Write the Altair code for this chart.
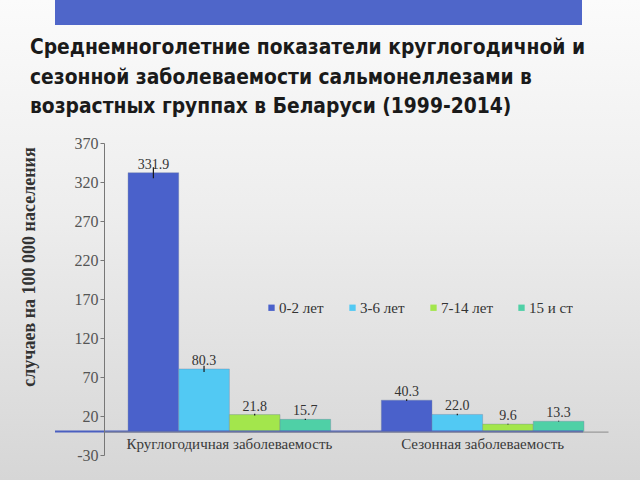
import altair as alt
import pandas as pd

categories = ["Круглогодичная заболеваемость", "Сезонная заболеваемость"]
age_groups = ["0-2 лет", "3-6 лет", "7-14 лет", "15 и ст"]
year_round = [331.9, 80.3, 21.8, 15.7]
seasonal = [40.3, 22.0, 9.6, 13.3]
err_year_round = [7.0, 4.0, 1.0, 0.8]
err_seasonal = [1.2, 1.0, 0.6, 0.5]
colors = ["#4A61CB", "#52C9F3", "#A3E64C", "#4FD0A6"]
y_ticks = [-30, 20, 70, 120, 170, 220, 270, 320, 370]

title_lines = [
    "Среднемноголетние показатели  круглогодичной и",
    "сезонной  заболеваемости сальмонеллезами  в",
    "возрастных группах в Беларуси (1999-2014)",
]
y_title = "случаев на 100 000 населения"

rows = []
for cat, vals, errs in [(categories[0], year_round, err_year_round),
                        (categories[1], seasonal, err_seasonal)]:
    for g, v, e in zip(age_groups, vals, errs):
        rows.append({"cat": cat, "grp": g, "val": v, "lo": v - e, "hi": v + e})
df = pd.DataFrame(rows)

W, H = 504, 312
PL, PT = 104, 143

one = pd.DataFrame({"a": [0]})

bg = alt.Chart(one).mark_rect(
    color=alt.Gradient(
        gradient="linear",
        stops=[alt.GradientStop(color="#FBFBFB", offset=0),
               alt.GradientStop(color="#EDEDED", offset=0.45),
               alt.GradientStop(color="#D6D6D6", offset=1)],
        x1=0, x2=0, y1=0, y2=1),
).encode(x=alt.value(-PL), x2=alt.value(640 - PL), y=alt.value(-PT), y2=alt.value(480 - PT))

banner = alt.Chart(one).mark_rect(color="#4F66C9").encode(
    x=alt.value(55 - PL), x2=alt.value(582 - PL), y=alt.value(-PT), y2=alt.value(25 - PT))

title = alt.Chart(one).mark_text(
    text=title_lines, align="left", baseline="alphabetic",
    font="DejaVu Sans Condensed", fontWeight="bold", fontSize=20.8,
    lineHeight=29.5, color="#1A1A1A",
).encode(x=alt.value(30 - PL), y=alt.value(54 - PT))

ytitle = alt.Chart(one).mark_text(
    text=y_title, angle=270, align="center", baseline="middle",
    font="Liberation Serif", fontWeight="bold", fontSize=18, color="#333333",
).encode(x=alt.value(30 - PL), y=alt.value(267 - PT))

yscale = alt.Scale(domain=[-30, 370], nice=False, zero=False)
xscale = alt.Scale(paddingInner=0.2, paddingOuter=0.095)

x_axis = alt.Axis(title=None, offset=-23.4, ticks=False, labelFont="Liberation Serif",
                  labelFontSize=15, labelColor="#3A3A3A", labelPadding=5,
                  labelLimit=400, labelOverlap=False,
                  domainColor="#8A8A8A", labelAngle=0, zindex=1)
y_axis = alt.Axis(title=None, values=y_ticks, labelFont="Liberation Serif",
                  labelFontSize=16, labelColor="#555555", tickColor="#777777",
                  domainColor="#777777", tickSize=4, labelPadding=2, grid=False,
                  labelOverlap=False, labelFlush=False, zindex=1,
                  labelExpr="datum.value < 0 ? '-' + abs(datum.value) : '' + datum.value")

xo = alt.XOffset("grp:N", sort=age_groups, scale=alt.Scale(paddingInner=0, paddingOuter=0))

bars = alt.Chart(df).mark_bar(stroke="#6E7FA0", strokeWidth=0.6, strokeOpacity=0.6).encode(
    x=alt.X("cat:N", sort=categories, scale=xscale, axis=x_axis), xOffset=xo,
    y=alt.Y("val:Q", scale=yscale, axis=y_axis), y2=alt.datum(0),
    color=alt.Color("grp:N", sort=age_groups,
                    scale=alt.Scale(domain=age_groups, range=colors),
                    legend=alt.Legend(title=None, orient="none", direction="horizontal",
                                      legendX=160, legendY=157, symbolType="square",
                                      symbolSize=40, symbolStrokeWidth=0,
                                      labelFont="Liberation Serif", labelFontSize=15,
                                      labelColor="#333333", columnPadding=21,
                                      symbolOffset=0, labelOffset=0)),
)

zero_line = alt.Chart(one).mark_rule(color="#4A5FC0", strokeWidth=2).encode(
    x=alt.value(55 - PL), x2=alt.value(583 - PL),
    y=alt.Y(datum=0, scale=yscale, axis=y_axis))

errs = alt.Chart(df).mark_rule(color="#1A1A1A", strokeWidth=1.2).encode(
    x=alt.X("cat:N", sort=categories, scale=xscale, axis=x_axis, bandPosition=0.5), xOffset=xo,
    y=alt.Y("lo:Q", scale=yscale, axis=y_axis), y2="hi:Q")

labels = alt.Chart(df).mark_text(
    font="Liberation Serif", fontSize=14, color="#333333", baseline="bottom", dy=-1,
).encode(x=alt.X("cat:N", sort=categories, scale=xscale, axis=x_axis), xOffset=xo,
         y=alt.Y("val:Q", scale=yscale, axis=y_axis),
         text=alt.Text("val:Q", format=".1f"))

chart = alt.layer(bg, banner, title, ytitle, bars, zero_line, errs, labels).properties(
    width=W, height=H,
    autosize=alt.AutoSizeParams(type="none"),
    padding={"left": PL, "top": PT, "right": 640 - PL - W, "bottom": 480 - PT - H},
    background="#E6E6E6",
).configure_view(stroke=None)

chart.save("out.html", embed_options={"renderer": "svg", "actions": False})
